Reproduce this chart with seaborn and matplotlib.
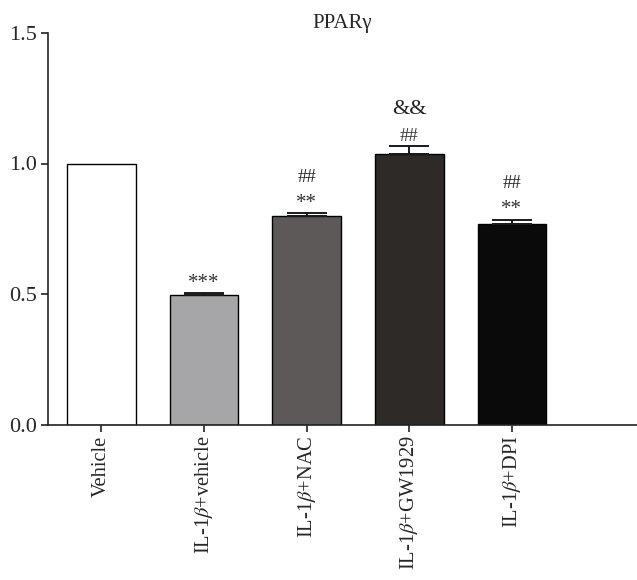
import matplotlib
matplotlib.use("Agg")
import matplotlib.pyplot as plt
import seaborn as sns
import pandas as pd

# Relative PPARγ expression per treatment group
groups = ["Vehicle", "IL-1$\\beta$+vehicle", "IL-1$\\beta$+NAC",
          "IL-1$\\beta$+GW1929", "IL-1$\\beta$+DPI"]
means = [1.0, 0.497, 0.799, 1.036, 0.767]
sem = [0.0, 0.006, 0.010, 0.032, 0.018]
sig_first = ["", "***", "**", "##", "**"]
sig_second = ["", "", "##", "&&", "##"]
bar_colors = ["#ffffff", "#a6a5a7", "#5d5857", "#2f2a27", "#0b0a0a"]

sns.set_style("white")
plt.rcParams["font.family"] = ["Liberation Serif", "DejaVu Serif"]
plt.rcParams["mathtext.fontset"] = "stix"

df = pd.DataFrame({"group": groups, "value": means})

fig = plt.figure(figsize=(6.37, 5.80), dpi=100)
ax = fig.add_axes([48 / 637, 1 - 424.5 / 580, 1 - 48 / 637, (424.5 - 33) / 580])

sns.barplot(data=df, x="group", y="value", hue="group", palette=bar_colors,
            width=0.67, edgecolor="black", linewidth=1.0, legend=False,
            errorbar=None, ax=ax)

# One-sided (upward) error bars
xs = list(range(len(groups)))
for x, m, e in zip(xs, means, sem):
    if e > 0:
        ax.errorbar(x, m, yerr=[[0], [e]], fmt="none", ecolor="#1a1a1a",
                    elinewidth=1.4, capsize=14.5, capthick=1.4, zorder=3)

# Significance markers above each bar
for x, m, e, s1, s2 in zip(xs, means, sem, sig_first, sig_second):
    top = m + e
    if s1:
        fs = 15 if s1.startswith("*") else 13.5
        ax.annotate(s1, (x, top), xytext=(0, 7), textcoords="offset points",
                    ha="center", va="center", fontsize=fs, color="#333333")
    if s2:
        fs = 16 if s2.startswith("&") else 13.5
        ax.annotate(s2, (x, top), xytext=(0, 26), textcoords="offset points",
                    ha="center", va="center", fontsize=fs, color="#222222")

ax.set_ylim(0, 1.5)
ax.set_xlim(-0.521, 5.219)
ax.set_yticks([0.0, 0.5, 1.0, 1.5])
ax.set_yticklabels(["0.0", "0.5", "1.0", "1.5"], fontsize=16)
ax.set_xticks(xs)
ax.set_xticklabels(groups, rotation=90, fontsize=14.8)
ax.set_xlabel("")
ax.set_ylabel("")

for side in ["top", "right"]:
    ax.spines[side].set_visible(False)
for side in ["left", "bottom"]:
    ax.spines[side].set_linewidth(1.2)
    ax.spines[side].set_color("#222222")
ax.tick_params(axis="both", direction="out", length=5, width=1.2,
               color="#222222", bottom=True, left=True, pad=3)

ax.text(0.5, 1.0, "PPARγ", transform=ax.transAxes, ha="center", va="bottom",
        fontsize=15, family=["Liberation Serif", "DejaVu Serif"])

fig.savefig("out.png", dpi=100)
